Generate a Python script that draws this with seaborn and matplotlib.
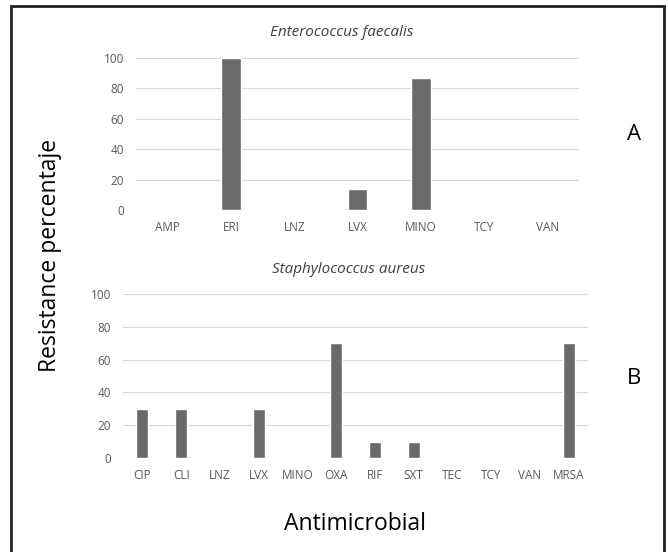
import matplotlib
matplotlib.use("Agg")
import matplotlib.pyplot as plt
import seaborn as sns
from matplotlib.patches import Rectangle

# -------------------------
# Data
# -------------------------
ef_drugs = ["AMP", "ERI", "LNZ", "LVX", "MINO", "TCY", "VAN"]
ef_resist = [0, 100, 0, 14, 87, 0, 0]

sa_drugs = ["CIP", "CLI", "LNZ", "LVX", "MINO", "OXA", "RIF", "SXT", "TEC", "TCY", "VAN", "MRSA"]
sa_resist = [30, 30, 0, 30, 0, 70, 10, 10, 0, 0, 0, 70]

yticks = [0, 20, 40, 60, 80, 100]

sns.set_theme(style="white")
plt.rcParams["font.family"] = ["Open Sans", "DejaVu Sans"]

W, H = 668, 552
BAR = "#6a6a6a"
GRID = "#d9d9d9"
TICK = "#595959"

fig = plt.figure(figsize=(W / 100, H / 100), dpi=100)
ax1 = fig.add_axes([136 / W, 1 - 210 / H, (579 - 136) / W, (210 - 58) / H])
ax2 = fig.add_axes([123 / W, 1 - 458 / H, (588 - 123) / W, (458 - 294) / H])


def style_panel(ax):
    ax.set_ylim(0, 100)
    ax.set_yticks(yticks)
    ax.grid(axis="y", color=GRID, linewidth=0.8)
    ax.set_axisbelow(True)
    for s in ax.spines.values():
        s.set_visible(False)
    ax.tick_params(axis="both", length=0, colors=TICK, labelsize=8.5)
    ax.tick_params(axis="x", pad=8)
    ax.tick_params(axis="y", pad=8.5)
    ax.set_xlabel("")
    ax.set_ylabel("")


sns.barplot(x=ef_drugs, y=ef_resist, color=BAR, width=0.31, saturation=1, ax=ax1)
style_panel(ax1)

sns.barplot(x=sa_drugs, y=sa_resist, color=BAR, width=0.31, saturation=1, ax=ax2)
style_panel(ax2)

# panel titles
fig.text(342 / W, 1 - 33 / H, "Enterococcus faecalis", style="italic",
         fontsize=11, color="#404040", ha="center", va="center")
fig.text(349 / W, 1 - 269 / H, "Staphylococcus aureus", style="italic",
         fontsize=11, color="#404040", ha="center", va="center")

# panel letters and shared labels
fig.text(634 / W, 1 - 135 / H, "A", fontsize=16, ha="center", va="center", color="black")
fig.text(634 / W, 1 - 378 / H, "B", fontsize=16, ha="center", va="center", color="black")
fig.text(50 / W, 1 - 255 / H, "Resistance percentaje", rotation=90,
         fontsize=16.5, ha="center", va="center", color="black")
fig.text(355 / W, 1 - 524 / H, "Antimicrobial", fontsize=16.5,
         ha="center", va="center", color="black")

# outer frame
fig.patches.append(Rectangle((11 / W, -0.05), (664 - 11) / W, 1.05 - 5.5 / H,
                             transform=fig.transFigure, fill=False,
                             edgecolor="#222222", linewidth=2))

fig.savefig("out.png", dpi=100)
